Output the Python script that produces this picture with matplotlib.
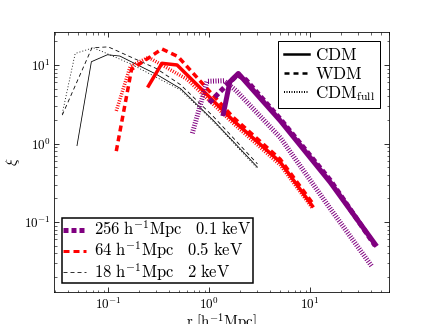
import matplotlib
matplotlib.use("Agg")
import matplotlib.pyplot as plt
from matplotlib.ticker import FuncFormatter, NullFormatter
from matplotlib.lines import Line2D
import numpy as np

plt.rcParams['mathtext.fontset'] = 'cm'
plt.rcParams['lines.scale_dashes'] = False

# 18 h^-1 Mpc, 2 keV (black)
blk_cdm_x = [0.049, 0.068, 0.098, 0.13, 0.3, 0.52, 1.1, 3.0]
blk_cdm_y = [0.94, 11.0, 13.5, 13.0, 7.6, 5.0, 1.96, 0.5]
blk_wdm_x = [0.035, 0.069, 0.1, 0.3, 0.52, 1.1, 3.0]
blk_wdm_y = [2.3, 16.6, 17.0, 9.0, 5.6, 2.2, 0.55]
blk_full_x = [0.035, 0.047, 0.071, 0.165, 0.52, 1.1, 3.0]
blk_full_y = [2.4, 14.0, 16.6, 10.4, 4.8, 1.9, 0.48]

# 64 h^-1 Mpc, 0.5 keV (red)
red_cdm_x = [0.25, 0.34, 0.48, 1.73, 5.05, 10.5]
red_cdm_y = [5.4, 10.5, 10.0, 1.96, 0.58, 0.16]
red_wdm_x = [0.12, 0.17, 0.34, 0.49, 1.73, 5.05, 10.5]
red_wdm_y = [0.8, 8.8, 16.0, 12.8, 2.15, 0.63, 0.175]
red_full_x = [0.12, 0.165, 0.25, 0.6, 1.73, 5.05, 10.5]
red_full_y = [2.6, 9.6, 12.5, 6.6, 1.8, 0.53, 0.15]

# 256 h^-1 Mpc, 0.1 keV (purple)
pur_cdm_x = [1.38, 1.6, 1.94, 2.27, 5.05, 15.8, 44.0]
pur_cdm_y = [2.4, 6.1, 7.8, 6.2, 1.95, 0.32, 0.052]
pur_wdm_x = [1.0, 1.35, 1.9, 2.3, 5.05, 15.8, 44.0]
pur_wdm_y = [3.3, 4.9, 7.5, 6.5, 2.05, 0.34, 0.05]
pur_full_x = [0.68, 0.95, 1.4, 1.85, 5.05, 15.8, 41.0]
pur_full_y = [1.35, 6.2, 6.3, 4.7, 1.19, 0.148, 0.027]

type_labels = [r'$\mathrm{CDM}$', r'$\mathrm{WDM}$', r'$\mathrm{CDM_{full}}$']
box_labels = [r'$256\ \mathrm{h^{-1}Mpc}\ \ \ 0.1\ \mathrm{keV}$',
              r'$64\ \mathrm{h^{-1}Mpc}\ \ \ 0.5\ \mathrm{keV}$',
              r'$18\ \mathrm{h^{-1}Mpc}\ \ \ 2\ \mathrm{keV}$']

purple = '#800080'
dash_sq = (0, (5, 3))
dot_st = (0, (1, 1.5))

fig = plt.figure(figsize=(6, 4.5), dpi=72)
ax = fig.add_axes([0.125, 0.1, 0.775, 0.8])

# black (thin)
ax.plot(blk_cdm_x, blk_cdm_y, color='black', lw=0.8, ls='-')
ax.plot(blk_wdm_x, blk_wdm_y, color='black', lw=0.8, ls=(0, (4, 3)))
ax.plot(blk_full_x, blk_full_y, color='black', lw=0.8, ls=(0, (1, 2)))
# red
ax.plot(red_cdm_x, red_cdm_y, color='red', lw=3.5, ls='-')
ax.plot(red_wdm_x, red_wdm_y, color='red', lw=3.5, ls=(0, (6, 4)))
ax.plot(red_full_x, red_full_y, color='red', lw=3.5, ls=dot_st)
# purple
ax.plot(pur_cdm_x, pur_cdm_y, color=purple, lw=5, ls='-')
ax.plot(pur_wdm_x, pur_wdm_y, color=purple, lw=5, ls=dash_sq)
ax.plot(pur_full_x, pur_full_y, color=purple, lw=5, ls=dot_st)

ax.set_xscale('log')
ax.set_yscale('log')
ax.set_xlim(0.029, 60)
ax.set_ylim(0.013, 26)

fmt = FuncFormatter(lambda v, p: r'$10^{%d}$' % int(round(np.log10(v))))
ax.xaxis.set_major_formatter(fmt)
ax.yaxis.set_major_formatter(fmt)
ax.xaxis.set_minor_formatter(NullFormatter())
ax.yaxis.set_minor_formatter(NullFormatter())
ax.tick_params(which='both', direction='in', top=True, right=True, labelsize=13)
ax.tick_params(which='major', length=5, width=0.8)
ax.tick_params(which='minor', length=2.5, width=0.6)
ax.tick_params(axis='x', pad=5)

ax.set_xlabel(r'$\mathrm{r\ [h^{-1}Mpc]}$', fontsize=15, labelpad=-1)
ax.set_ylabel(r'$\xi$', fontsize=15, labelpad=2)

h1 = [Line2D([], [], color='black', lw=2.5, ls='-'),
      Line2D([], [], color='black', lw=2.5, ls=(0, (5, 4))),
      Line2D([], [], color='black', lw=2.0, ls=dot_st)]
leg1 = ax.legend(h1, type_labels, loc='upper right', fontsize=17, frameon=True,
                 fancybox=False, framealpha=1, edgecolor='black',
                 handlelength=1.5, handletextpad=0.35, labelspacing=0.05,
                 borderpad=0.3, borderaxespad=0.5)
leg1.get_frame().set_linewidth(1.0)
ax.add_artist(leg1)

h2 = [Line2D([], [], color=purple, lw=5, ls=dash_sq),
      Line2D([], [], color='red', lw=3, ls=(0, (6, 4))),
      Line2D([], [], color='black', lw=0.8, ls=(0, (4, 3)))]
leg2 = ax.legend(h2, box_labels, loc='lower left', fontsize=16.5, frameon=True,
                 fancybox=False, framealpha=1, edgecolor='black',
                 handlelength=1.4, handletextpad=0.5, labelspacing=-0.05,
                 borderpad=0.05, borderaxespad=0.5)
leg2.get_frame().set_linewidth(1.5)

fig.savefig('out.png', dpi=72)
